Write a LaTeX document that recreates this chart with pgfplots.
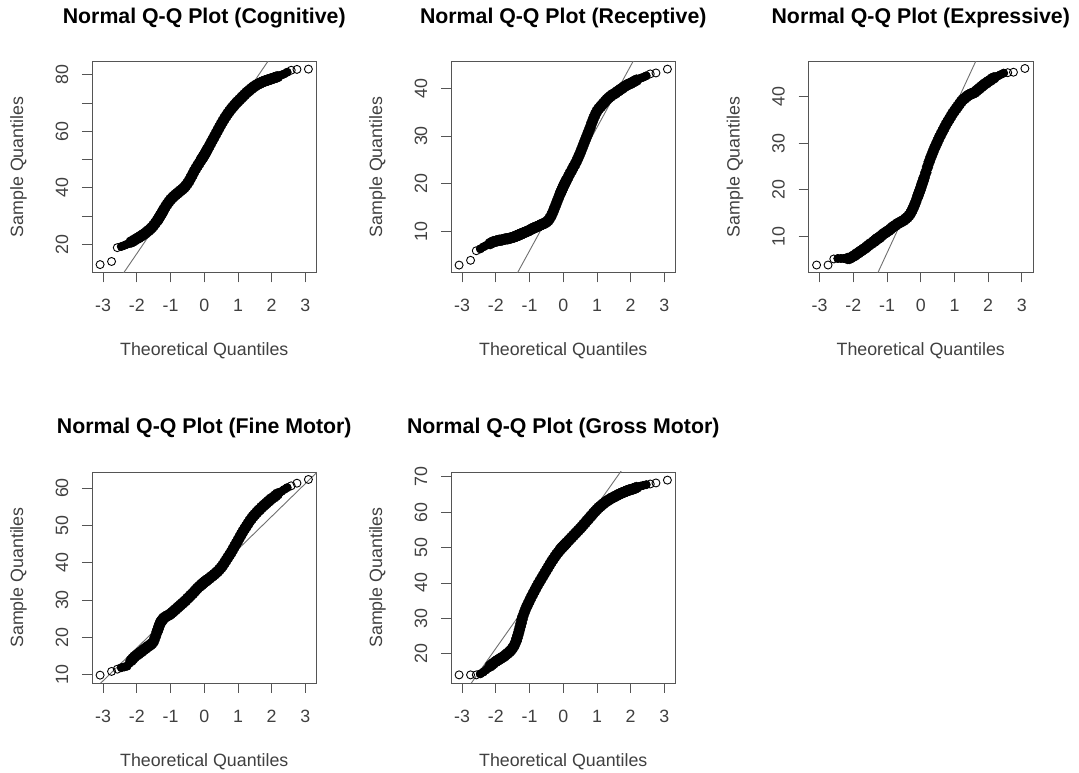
\documentclass[border=0pt]{standalone}
\usepackage{pgfplots}
\pgfplotsset{compat=1.18}
\usepackage{pgfplotstable}
\usepackage{fontspec}
\setmainfont{Liberation Sans}

% Sorted sample values against shared theoretical normal quantiles
\pgfplotstableread{
x      cog   rec   exp   fine  gross
-3.09  12.8  3.0   3.9   9.9   14.0
-2.75  13.9  4.0   3.9   10.9  14.0
-2.58  18.8  6.0   5.2   11.5  14.0
-2.46  19.2  6.4   5.3   11.9  14.3
-2.37  19.6  6.8   5.3   12.1  14.8
-2.29  20.0  7.1   5.3   12.3  15.4
-2.23  20.3  7.3   5.3   13.0  15.9
-2.17  20.8  7.5   5.3   13.8  16.5
-2.12  21.1  7.7   5.3   14.3  16.9
-2.07  21.5  7.9   5.5   14.8  17.3
-2.00  22.0  8.0   5.8   15.3  17.8
-1.95  22.3  8.1   6.0   15.6  18.1
-1.90  22.7  8.2   6.3   16.0  18.4
-1.85  23.1  8.2   6.5   16.3  18.7
-1.80  23.5  8.3   6.8   16.7  19.0
-1.75  23.9  8.4   7.0   17.0  19.3
-1.70  24.4  8.5   7.3   17.4  19.7
-1.65  24.9  8.5   7.5   17.7  20.1
-1.60  25.4  8.6   7.8   18.0  20.5
-1.55  26.0  8.7   8.1   18.4  21.0
-1.50  26.7  8.8   8.4   19.0  21.6
-1.45  27.5  8.9   8.6   20.2  22.4
-1.40  28.3  9.1   8.9   21.5  23.5
-1.375 28.7  9.1   9.0   22.1  24.3
-1.35  29.2  9.2   9.2   22.8  25.1
-1.325 29.7  9.3   9.3   23.4  25.9
-1.30  30.2  9.4   9.5   24.0  26.8
-1.275 30.7  9.4   9.6   24.3  27.7
-1.25  31.2  9.5   9.7   24.6  28.6
-1.225 31.7  9.6   9.8   24.9  29.6
-1.20  32.3  9.7   10.0  25.2  30.5
-1.15  33.3  9.8   10.3  25.5  31.8
-1.10  34.2  10.0  10.6  25.8  33.0
-1.05  35.0  10.1  10.8  26.0  34.0
-1.00  35.8  10.3  11.1  26.3  35.0
-0.95  36.4  10.5  11.3  26.7  36.0
-0.90  37.0  10.7  11.6  27.1  36.9
-0.85  37.5  10.8  11.9  27.5  37.8
-0.80  38.0  11.0  12.2  27.9  38.7
-0.75  38.5  11.1  12.4  28.3  39.6
-0.70  39.0  11.3  12.7  28.7  40.4
-0.65  39.5  11.5  12.9  29.1  41.2
-0.60  40.0  11.6  13.1  29.5  42.0
-0.55  40.7  11.8  13.3  29.9  42.8
-0.50  41.5  12.0  13.5  30.4  43.6
-0.45  42.4  12.3  13.8  30.8  44.4
-0.40  43.5  12.8  14.1  31.3  45.2
-0.35  44.6  13.4  14.5  31.7  46.0
-0.30  45.8  14.2  15.0  32.2  46.7
-0.25  46.8  15.1  15.7  32.7  47.4
-0.20  47.8  16.0  16.5  33.2  48.1
-0.15  48.7  16.9  17.4  33.6  48.7
-0.10  49.7  17.8  18.4  34.0  49.3
-0.075 50.2  18.2  18.9  34.2  49.6
-0.05  50.6  18.6  19.4  34.4  49.9
-0.025 51.1  19.0  19.9  34.6  50.1
0.00   51.6  19.4  20.4  34.8  50.4
0.025  52.1  19.8  21.0  35.0  50.6
0.05   52.6  20.1  21.5  35.1  50.9
0.075  53.2  20.5  22.0  35.3  51.1
0.10   53.7  20.8  22.6  35.5  51.4
0.15   54.8  21.5  23.7  35.8  51.9
0.20   55.9  22.2  24.9  36.2  52.4
0.25   57.0  22.8  26.0  36.5  52.9
0.30   58.1  23.5  27.0  36.9  53.4
0.35   59.2  24.1  27.9  37.3  53.9
0.40   60.3  24.8  28.8  37.7  54.4
0.45   61.4  25.6  29.6  38.2  54.9
0.50   62.5  26.4  30.4  38.7  55.4
0.55   63.5  27.3  31.2  39.3  55.9
0.60   64.5  28.2  31.9  40.0  56.5
0.65   65.4  29.1  32.6  40.7  57.0
0.70   66.3  30.0  33.3  41.4  57.6
0.75   67.1  30.9  34.0  42.1  58.1
0.80   67.9  31.8  34.6  42.8  58.7
0.85   68.6  32.8  35.2  43.6  59.2
0.90   69.3  33.7  35.8  44.4  59.8
0.95   70.0  34.5  36.4  45.2  60.3
1.00   70.6  35.2  36.9  46.0  60.8
1.05   71.2  35.7  37.4  46.8  61.3
1.10   71.8  36.1  37.9  47.6  61.7
1.15   72.4  36.5  38.4  48.4  62.1
1.20   73.0  36.9  38.9  49.1  62.5
1.25   73.6  37.3  39.3  49.8  62.9
1.30   74.1  37.7  39.6  50.5  63.2
1.35   74.6  38.0  39.9  51.2  63.5
1.40   75.1  38.3  40.2  51.8  63.8
1.45   75.6  38.6  40.4  52.4  64.1
1.50   76.0  38.8  40.6  52.9  64.3
1.55   76.4  39.0  40.7  53.4  64.6
1.60   76.7  39.3  40.9  53.9  64.8
1.65   77.0  39.5  41.2  54.3  65.1
1.70   77.3  39.8  41.5  54.8  65.3
1.75   77.6  40.0  41.8  55.2  65.5
1.80   77.8  40.3  42.1  55.6  65.7
1.85   78.0  40.5  42.4  56.0  65.9
1.90   78.2  40.7  42.7  56.4  66.1
1.95   78.4  40.9  42.9  56.8  66.3
2.00   78.6  41.0  43.2  57.2  66.4
2.07   78.9  41.3  43.5  57.6  66.6
2.12   79.1  41.5  43.8  58.0  66.8
2.17   79.3  41.7  44.0  58.4  67.0
2.23   79.6  41.9  44.2  58.8  67.2
2.29   79.9  42.1  44.4  59.1  67.4
2.37   80.3  42.3  44.7  59.6  67.6
2.46   80.9  42.6  45.0  60.1  67.8
2.58   81.6  43.0  45.1  60.6  68.0
2.75   81.9  43.2  45.2  61.3  68.3
3.09   82.0  44.0  46.0  62.3  69.1
}\qqdata

\definecolor{framegray}{HTML}{555555}
\definecolor{linegray}{HTML}{707070}
\definecolor{labgray}{HTML}{404040}

\newcommand\titlefont{\fontsize{21.3bp}{25bp}\selectfont\bfseries}
\newcommand\labfont{\fontsize{17.8bp}{21bp}\selectfont}

\pgfplotsset{
  qqpanel/.style={
    width=224.5bp, height=211bp, scale only axis,
    anchor=south west,
    xmin=-3.33, xmax=3.33,
    xtick={-3,-2,-1,0,1,2,3},
    xticklabels={-3,-2,-1,0,1,2,3},
    axis line style={framegray, line width=0.9bp},
    tick style={framegray, line width=0.9bp},
    tick align=outside, major tick length=10bp,
    xtick pos=bottom, ytick pos=left,
    ticklabel style={font=\labfont, text=labgray},
    xticklabel style={anchor=base, yshift=-29bp},
    yticklabel style={anchor=base, xshift=-14bp, rotate=90},
  },
  % dense middle of the sample: overlapping points read as a solid band
  qqcore/.style={only marks, mark=*, mark size=5.5bp, black,
    restrict x to domain=-2.2:2.2},
  qqband/.style={only marks, mark=*, mark size=4bp, black,
    restrict x to domain=-2.5:2.5},
  qqpts/.style={only marks, mark=o, mark size=4bp, black,
    mark options={line width=0.9bp}},
  qqline/.style={linegray, line width=0.9bp},
}

% Panel furniture: title, x label and y label around a named axis
\newcommand\panellabels[2]{%
  \node[anchor=base, font=\titlefont] at ([yshift=38bp]#1.north) {#2};
  \node[anchor=base, font=\labfont, text=labgray] at ([yshift=-83bp]#1.south) {Theoretical Quantiles};
  \node[anchor=base, rotate=90, font=\labfont, text=labgray] at ([xshift=-69bp]#1.west) {Sample Quantiles};
}

% One panel: reference line, then the sample points of one column
\newcommand\qqpoints[1]{%
  \addplot[qqcore] table[x=x, y=#1]{\qqdata};
  \addplot[qqband] table[x=x, y=#1]{\qqdata};
  \addplot[qqpts] table[x=x, y=#1]{\qqdata};
}

\begin{document}
\begin{tikzpicture}
\path[use as bounding box, fill=white] (0,0) rectangle (1079bp,773bp);

% Cognitive
\begin{axis}[qqpanel, name=cog, at={(92bp,500.5bp)},
  ymin=10.0, ymax=84.7, ytick={20,30,...,80}, yticklabels={20,,40,,60,,80}]
  \addplot[qqline] coordinates {(-3.5,-9.55) (3.5,112.95)};
  \qqpoints{cog}
\end{axis}
\panellabels{cog}{Normal Q-Q Plot (Cognitive)}

% Receptive
\begin{axis}[qqpanel, name=rec, at={(451bp,500.5bp)},
  ymin=1.45, ymax=45.6, ytick={10,20,30,40}, yticklabels={10,20,30,40}]
  \addplot[qqline] coordinates {(-3.5,-26.25) (3.5,64.05)};
  \qqpoints{rec}
\end{axis}
\panellabels{rec}{Normal Q-Q Plot (Receptive)}

% Expressive
\begin{axis}[qqpanel, name=exp, at={(808.5bp,500.5bp)},
  ymin=2.3, ymax=47.5, ytick={10,20,30,40}, yticklabels={10,20,30,40}]
  \addplot[qqline] coordinates {(-3.5,-32.5) (3.5,76.7)};
  \qqpoints{exp}
\end{axis}
\panellabels{exp}{Normal Q-Q Plot (Expressive)}

% Fine Motor
\begin{axis}[qqpanel, name=fine, at={(92bp,90bp)},
  ymin=7.8, ymax=64.3, ytick={10,20,...,60}, yticklabels={10,20,30,40,50,60}]
  \addplot[qqline] coordinates {(-3.5,4.0) (3.5,65.6)};
  \qqpoints{fine}
\end{axis}
\panellabels{fine}{Normal Q-Q Plot (Fine Motor)}

% Gross Motor
\begin{axis}[qqpanel, name=gross, at={(451bp,90bp)},
  ymin=11.7, ymax=71.4, ytick={20,30,...,70}, yticklabels={20,30,40,50,60,70}]
  \addplot[qqline] coordinates {(-3.5,1.25) (3.5,95.75)};
  \qqpoints{gross}
\end{axis}
\panellabels{gross}{Normal Q-Q Plot (Gross Motor)}

\end{tikzpicture}
\end{document}
